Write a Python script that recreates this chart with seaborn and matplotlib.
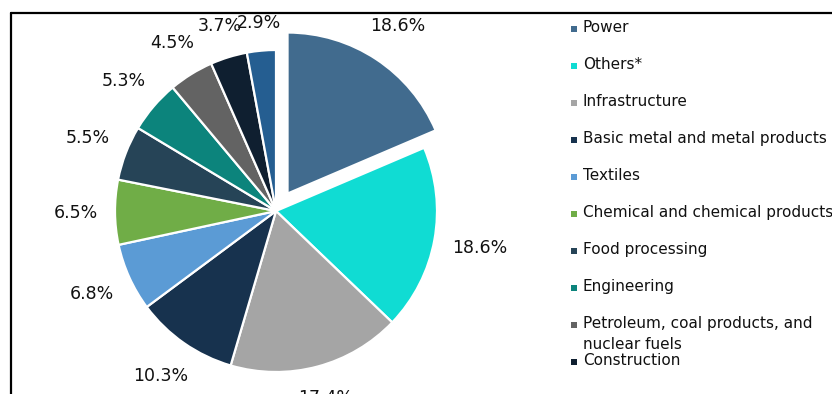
import numpy as np
import matplotlib
matplotlib.use("Agg")
import matplotlib.pyplot as plt
import seaborn as sns
from matplotlib.lines import Line2D
from matplotlib.patches import Rectangle

# Sector shares (%), drawn clockwise from 12 o'clock
sectors = [
    "Power",
    "Others*",
    "Infrastructure",
    "Basic metal and metal products",
    "Textiles",
    "Chemical and chemical products",
    "Food processing",
    "Engineering",
    "Petroleum, coal products, and\nnuclear fuels",
    "Construction",
    "Cement and cement products",
]
shares = [18.6, 18.6, 17.4, 10.3, 6.8, 6.5, 5.5, 5.3, 4.5, 3.7, 2.9]
colors = [
    "#416B8E", "#10DCD3", "#A5A5A5", "#17324E", "#5B9BD5", "#70AD47",
    "#264457", "#0C847C", "#636363", "#0F1F30", "#255E91",
]

sns.set_theme(style="white")
plt.rcParams["font.family"] = ["DejaVu Sans"]
palette = sns.color_palette(colors)

W, H = 832, 394
fig = plt.figure(figsize=(W / 100, H / 100), dpi=100)
fig.patch.set_facecolor("white")

# pie centre and radius in pixels
cx, cy, R = 276, 211, 161
ax = fig.add_axes([(cx - R) / W, (H - cy - R) / H, 2 * R / W, 2 * R / H])
explode = [0.13] + [0] * (len(shares) - 1)
wedges, _ = ax.pie(
    shares, colors=palette, startangle=90, counterclock=False,
    explode=explode, wedgeprops=dict(edgecolor="white", linewidth=1.6),
)
ax.set_xlim(-1, 1)
ax.set_ylim(-1, 1)
ax.set_aspect("equal")
ax.axis("off")

# percentage labels just outside each wedge
renderer = fig.canvas.get_renderer()
pad = 17 / R
for w, v in zip(wedges, shares):
    th = np.deg2rad((w.theta1 + w.theta2) / 2)
    ux, uy = np.cos(th), np.sin(th)
    x0, y0 = w.center
    t = ax.text(x0 + ux * (1 + pad), y0 + uy * (1 + pad), f"{v:.1f}%",
                ha="center", va="center", fontsize=12.5, color="#111111")
    bb = t.get_window_extent(renderer)
    half = (abs(ux) * bb.width / 2 + abs(uy) * bb.height / 2) / R
    t.set_position((x0 + ux * (1 + pad + half), y0 + uy * (1 + pad + half)))

# outer frame (top and left edges)
fig.add_artist(Line2D([11 / W, 1], [1 - 13 / H, 1 - 13 / H],
                      transform=fig.transFigure, color="black", lw=1.6))
fig.add_artist(Line2D([11 / W, 11 / W], [0, 1 - 13 / H],
                      transform=fig.transFigure, color="black", lw=1.6))

# legend entries on a fixed 37px pitch; entries past the bottom edge are dropped
for i, (name, col) in enumerate(zip(sectors, palette)):
    y = 29 + 37 * i
    if y + 9 > H:
        break
    fig.add_artist(Rectangle(((571) / W, 1 - (y + 3) / H), 6 / W, 6 / H,
                             transform=fig.transFigure, facecolor=col,
                             edgecolor="none"))
    fig.text(583 / W, 1 - (y - 9) / H, name, ha="left", va="top",
             fontsize=11, color="#111111", linespacing=1.5)

fig.savefig("out.png", dpi=100, facecolor="white")
